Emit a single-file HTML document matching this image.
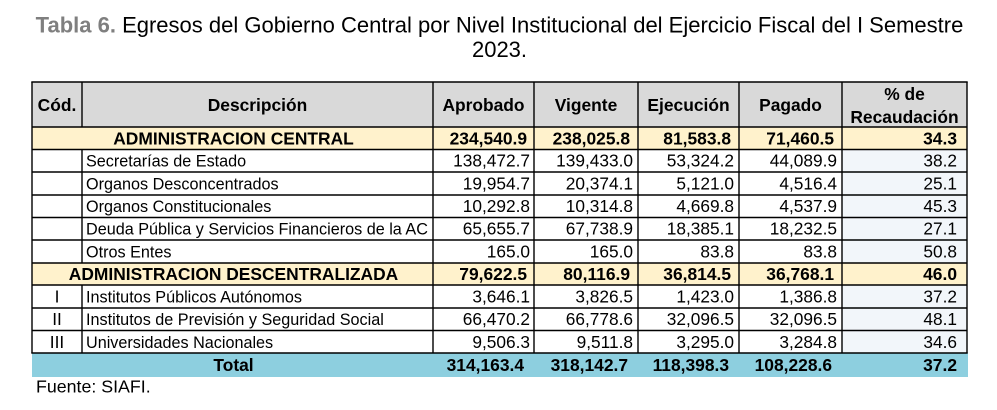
<!DOCTYPE html>
<html><head><meta charset="utf-8"><style>
html,body{margin:0;padding:0;background:#fff;}
svg{display:block;}
text{font-family:"Liberation Sans",Arial,sans-serif;fill:#000;}
.b{font-weight:bold;font-size:17.4px;}
.r{font-size:16.2px;}
.n{font-size:17.3px;}
</style></head><body>
<svg width="997" height="410" viewBox="0 0 997 410" xmlns="http://www.w3.org/2000/svg">
<!-- Title -->
<text x="499.5" y="32.5" text-anchor="middle" font-size="22"><tspan font-weight="bold" style="fill:#7f7f7f">Tabla 6.</tspan> Egresos del Gobierno Central por Nivel Institucional del Ejercicio Fiscal del I Semestre</text>
<text x="499.5" y="57" text-anchor="middle" font-size="22">2023.</text>

<!-- Backgrounds -->
<rect x="32" y="82" width="935" height="45" fill="#d9d9d9"/>
<rect x="32" y="127" width="935" height="22.5" fill="#fff2cc"/>
<rect x="842" y="149.5" width="125" height="113.5" fill="#f2f6fa"/>
<rect x="32" y="263" width="935" height="22" fill="#fff2cc"/>
<rect x="842" y="285" width="125" height="68" fill="#f2f6fa"/>
<rect x="32" y="353" width="936" height="24" fill="#8dcfdf"/>

<!-- Lines -->
<g stroke="#000" stroke-width="1.4" fill="none">
<line x1="31.3" y1="82" x2="967.7" y2="82"/>
<line x1="32" y1="127" x2="967" y2="127"/>
<line x1="32" y1="149.5" x2="967" y2="149.5"/>
<line x1="32" y1="172" x2="967" y2="172"/>
<line x1="32" y1="195" x2="967" y2="195"/>
<line x1="32" y1="217.5" x2="967" y2="217.5"/>
<line x1="32" y1="240" x2="967" y2="240"/>
<line x1="32" y1="263" x2="967" y2="263"/>
<line x1="32" y1="285" x2="967" y2="285"/>
<line x1="32" y1="308" x2="967" y2="308"/>
<line x1="32" y1="330.5" x2="967" y2="330.5"/>
<line x1="31.3" y1="353" x2="967.7" y2="353"/>
<line x1="32" y1="82" x2="32" y2="353"/>
<line x1="433" y1="82" x2="433" y2="353"/>
<line x1="534" y1="82" x2="534" y2="353"/>
<line x1="638" y1="82" x2="638" y2="353"/>
<line x1="739" y1="82" x2="739" y2="353"/>
<line x1="842" y1="82" x2="842" y2="353"/>
<line x1="967" y1="82" x2="967" y2="353"/>
<line x1="82" y1="82" x2="82" y2="127"/>
<line x1="82" y1="149.5" x2="82" y2="263"/>
<line x1="82" y1="285" x2="82" y2="353"/>
</g>

<!-- Header -->
<g text-anchor="middle">
<text class="b" x="57" y="111">Cód.</text>
<text class="b" x="257.5" y="111">Descripción</text>
<text class="b" x="483.5" y="111">Aprobado</text>
<text class="b" x="586" y="111">Vigente</text>
<text class="b" x="688.5" y="111">Ejecución</text>
<text class="b" x="790.5" y="111">Pagado</text>
<text class="b" x="904.5" y="100">% de</text>
<text class="b" x="904.5" y="123">Recaudación</text>
</g>

<!-- ADMIN CENTRAL -->
<text class="b" x="233.5" y="144.5" text-anchor="middle">ADMINISTRACION CENTRAL</text>
<g text-anchor="end">
<text class="b" x="527" y="144.5">234,540.9</text>
<text class="b" x="630" y="144.5">238,025.8</text>
<text class="b" x="731" y="144.5">81,583.8</text>
<text class="b" x="834" y="144.5">71,460.5</text>
<text class="b" x="957" y="144.5">34.3</text>
</g>

<!-- Data rows section 1 -->
<text class="r" x="86" y="166.5">Secretarías de Estado</text>
<text class="r" x="86" y="189.5">Organos Desconcentrados</text>
<text class="r" x="86" y="212">Organos Constitucionales</text>
<text class="r" x="86" y="234.5">Deuda Pública y Servicios Financieros de la AC</text>
<text class="r" x="86" y="257.5">Otros Entes</text>
<g text-anchor="end">
<text class="n" x="530" y="166.5">138,472.7</text>
<text class="n" x="633" y="166.5">139,433.0</text>
<text class="n" x="734" y="166.5">53,324.2</text>
<text class="n" x="837" y="166.5">44,089.9</text>
<text class="n" x="957" y="166.5">38.2</text>

<text class="n" x="530" y="189.5">19,954.7</text>
<text class="n" x="633" y="189.5">20,374.1</text>
<text class="n" x="734" y="189.5">5,121.0</text>
<text class="n" x="837" y="189.5">4,516.4</text>
<text class="n" x="957" y="189.5">25.1</text>

<text class="n" x="530" y="212">10,292.8</text>
<text class="n" x="633" y="212">10,314.8</text>
<text class="n" x="734" y="212">4,669.8</text>
<text class="n" x="837" y="212">4,537.9</text>
<text class="n" x="957" y="212">45.3</text>

<text class="n" x="530" y="234.5">65,655.7</text>
<text class="n" x="633" y="234.5">67,738.9</text>
<text class="n" x="734" y="234.5">18,385.1</text>
<text class="n" x="837" y="234.5">18,232.5</text>
<text class="n" x="957" y="234.5">27.1</text>

<text class="n" x="530" y="257.5">165.0</text>
<text class="n" x="633" y="257.5">165.0</text>
<text class="n" x="734" y="257.5">83.8</text>
<text class="n" x="837" y="257.5">83.8</text>
<text class="n" x="957" y="257.5">50.8</text>
</g>

<!-- ADMIN DESCENTRALIZADA -->
<text class="b" x="233.5" y="280" text-anchor="middle">ADMINISTRACION DESCENTRALIZADA</text>
<g text-anchor="end">
<text class="b" x="527" y="280">79,622.5</text>
<text class="b" x="630" y="280">80,116.9</text>
<text class="b" x="731" y="280">36,814.5</text>
<text class="b" x="834" y="280">36,768.1</text>
<text class="b" x="957" y="280">46.0</text>
</g>

<!-- Section 2 -->
<g text-anchor="middle">
<text class="n" x="57" y="302.5">I</text>
<text class="n" x="57" y="325">II</text>
<text class="n" x="57" y="348">III</text>
</g>
<text class="r" x="86" y="302.5">Institutos Públicos Autónomos</text>
<text class="r" x="86" y="325">Institutos de Previsión y Seguridad Social</text>
<text class="r" x="86" y="348">Universidades Nacionales</text>
<g text-anchor="end">
<text class="n" x="530" y="302.5">3,646.1</text>
<text class="n" x="633" y="302.5">3,826.5</text>
<text class="n" x="734" y="302.5">1,423.0</text>
<text class="n" x="837" y="302.5">1,386.8</text>
<text class="n" x="957" y="302.5">37.2</text>

<text class="n" x="530" y="325">66,470.2</text>
<text class="n" x="633" y="325">66,778.6</text>
<text class="n" x="734" y="325">32,096.5</text>
<text class="n" x="837" y="325">32,096.5</text>
<text class="n" x="957" y="325">48.1</text>

<text class="n" x="530" y="348">9,506.3</text>
<text class="n" x="633" y="348">9,511.8</text>
<text class="n" x="734" y="348">3,295.0</text>
<text class="n" x="837" y="348">3,284.8</text>
<text class="n" x="957" y="348">34.6</text>
</g>

<!-- Total -->
<text class="b" x="233.5" y="371" text-anchor="middle">Total</text>
<g text-anchor="end">
<text class="b" x="524" y="371">314,163.4</text>
<text class="b" x="628" y="371">318,142.7</text>
<text class="b" x="729" y="371">118,398.3</text>
<text class="b" x="832" y="371">108,228.6</text>
<text class="b" x="957" y="371">37.2</text>
</g>

<!-- Source -->
<text x="36" y="392.5" font-size="17.8">Fuente: SIAFI.</text>
</svg>
</body></html>
